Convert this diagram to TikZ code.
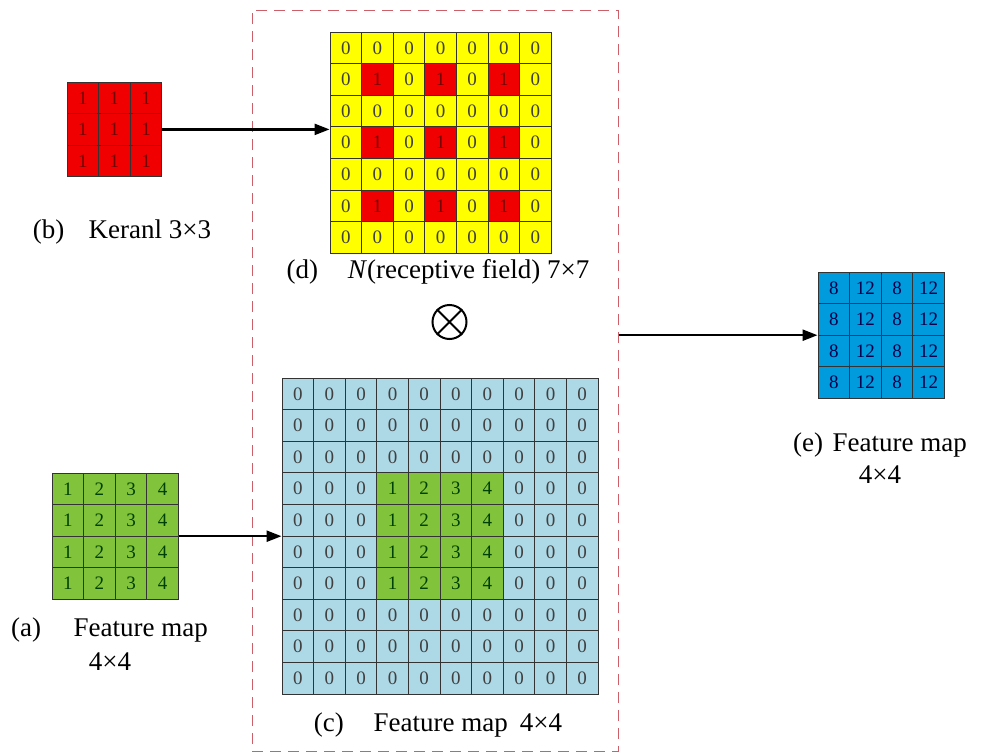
\documentclass[tikz,border=0pt]{standalone}
\usepackage{fontspec}
\setmainfont{Liberation Serif}
\usetikzlibrary{arrows.meta,calc}
\definecolor{kred}{RGB}{240,0,0}
\definecolor{kyel}{RGB}{255,255,0}
\definecolor{kgreen}{RGB}{130,195,60}
\definecolor{klblue}{RGB}{173,216,230}
\definecolor{kblue}{RGB}{0,155,220}
\definecolor{kdash}{RGB}{205,95,105}
\tikzset{
  cell/.style={draw=black!80,line width=0.8pt,minimum size=31.6pt,inner sep=0pt,
    font=\fontsize{19}{19}\selectfont},
  outline/.style={draw=black!80,line width=0.9pt,inner sep=0pt},
  lbl/.style={font=\fontsize{27}{30}\selectfont,inner sep=0pt},
  arr/.style={draw=black,line width=2.3pt,-{Triangle[length=15pt,width=11pt]}},
  dbox/.style={draw=kdash,line width=1pt,dash pattern=on 11pt off 7pt,inner sep=0pt},
}
\begin{document}
\begin{tikzpicture}[x=1pt,y=-1pt]
\useasboundingbox (0,0) rectangle (983,755);
% dashed box
\node[dbox,minimum width=366pt,minimum height=741pt] (box) at (435,380.5) {};
% kernel (b)
\foreach \r in {0,1,2}{\foreach \c in {0,1,2}{
  \node[cell,fill=kred,text=red!45!black] (k-\r-\c) at ({67+(\c+0.5)*31.6},{82+(\r+0.5)*31.6}) {1};
}}
\node[outline,minimum size=94.8pt] (kgrid) at ({67+47.4},{82+47.4}) {};
\node[lbl] (blabel) at (122,232) {(b)\hspace{0.9em}Keranl 3×3};
% receptive field (d)
\foreach \r in {0,...,6}{\foreach \c in {0,...,6}{
  \pgfmathtruncatemacro{\isone}{(mod(\r,2)==1)&&(mod(\c,2)==1)}
  \ifnum\isone=1
    \node[cell,fill=kred,text=red!45!black] (d-\r-\c) at ({330+(\c+0.5)*31.6},{32+(\r+0.5)*31.6}) {1};
  \else
    \node[cell,fill=kyel,text=black!75] (d-\r-\c) at ({330+(\c+0.5)*31.6},{32+(\r+0.5)*31.6}) {0};
  \fi
}}
\node[outline,minimum size=221.2pt] (dgrid) at ({330+110.6},{32+110.6}) {};
\node[lbl] (dlabel) at (438,272) {(d)\hspace{1.1em}\textit{N}(receptive field) 7×7};
% otimes
\node[circle,draw=black,line width=2pt,minimum size=34pt,inner sep=0pt] (ot) at (449.5,322) {};
\draw[line width=2pt] (ot.45) -- (ot.225) (ot.135) -- (ot.315);
% padded feature map (c)
\foreach \r in {0,...,9}{\foreach \c in {0,...,9}{
  \pgfmathtruncatemacro{\isin}{(\r>2)&&(\r<7)&&(\c>2)&&(\c<7)}
  \pgfmathtruncatemacro{\val}{\c-2}
  \ifnum\isin=1
    \node[cell,fill=kgreen,text=green!25!black] (c-\r-\c) at ({282+(\c+0.5)*31.6},{378+(\r+0.5)*31.6}) {\val};
  \else
    \node[cell,fill=klblue,text=black!75] (c-\r-\c) at ({282+(\c+0.5)*31.6},{378+(\r+0.5)*31.6}) {0};
  \fi
}}
\node[outline,minimum size=316pt] (cgrid) at ({282+158},{378+158}) {};
\node[lbl] (clabel) at (438,725) {(c)\hspace{1.1em}Feature map\hspace{0.45em}4×4};
% feature map (a)
\foreach \r in {0,...,3}{\foreach \c in {0,...,3}{
  \pgfmathtruncatemacro{\val}{\c+1}
  \node[cell,fill=kgreen,text=green!25!black] (a-\r-\c) at ({52+(\c+0.5)*31.6},{473+(\r+0.5)*31.6}) {\val};
}}
\node[outline,minimum size=126.4pt] (agrid) at ({52+63.2},{473+63.2}) {};
\node[lbl,anchor=west] (alabel) at (11,630) {(a)\hspace{1.2em}Feature map};
\node[lbl] (alabel2) at (110,662) {4×4};
% output feature map (e)
\foreach \r in {0,...,3}{\foreach \c in {0,...,3}{
  \pgfmathtruncatemacro{\val}{mod(\c,2)==0 ? 8 : 12}
  \node[cell,fill=kblue,text=blue!30!black] (e-\r-\c) at ({818+(\c+0.5)*31.6},{272+(\r+0.5)*31.6}) {\val};
}}
\node[outline,minimum size=126.4pt] (egrid) at ({818+63.2},{272+63.2}) {};
\node[lbl] (elabel) at (880,445) {(e)\hspace{0.35em}Feature map};
\node[lbl] (elabel2) at (880,475) {4×4};
% connectors
\draw[arr] (kgrid.east) -- (kgrid.east -| dgrid.west);
\draw[arr] (agrid.east) -- (agrid.east -| cgrid.west);
\draw[arr] (box.east |- egrid.west) -- (egrid.west);
\end{tikzpicture}
\end{document}
